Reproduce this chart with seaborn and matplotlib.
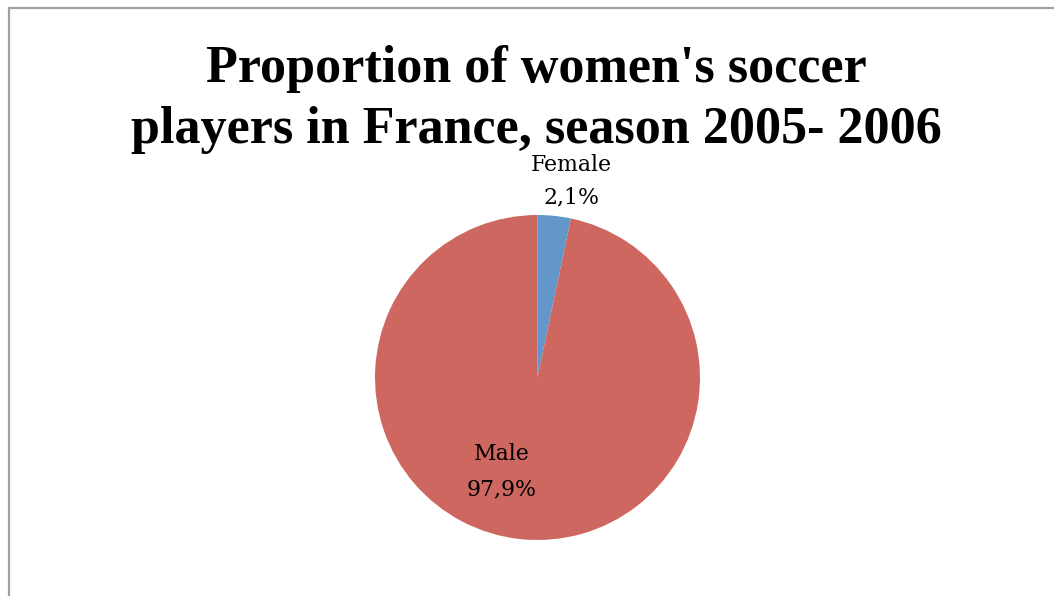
import matplotlib
matplotlib.use("Agg")
import matplotlib.pyplot as plt
from matplotlib.lines import Line2D
import seaborn as sns

# ---- data ----
categories = ["Female", "Male"]
shares = [3.3, 96.7]          # slice sizes as drawn in the reference
pct_labels = ["2,1%", "97,9%"]  # labels as printed in the reference
colors = ["#6396C9", "#CD6760"]
title_lines = ["Proportion of women's soccer", "players in France, season 2005- 2006"]

sns.set_theme(style="white")
plt.rcParams["font.family"] = ["DejaVu Serif", "DejaVu Sans"]

W, H, DPI = 1054, 596, 100
fig = plt.figure(figsize=(W / DPI, H / DPI), dpi=DPI, facecolor="white")

# frame border (top and left visible)
x0 = 9 / W
ytop = 1 - 7.5 / H
fig.add_artist(Line2D([x0, x0], [0, ytop], transform=fig.transFigure, color="#A0A0A0", lw=1.6))
fig.add_artist(Line2D([x0, 1], [ytop, ytop], transform=fig.transFigure, color="#A0A0A0", lw=1.6))

# title
cx = 536.5 / W
for line, base in zip(title_lines, [82, 143]):
    fig.text(cx, 1 - base / H, line, ha="center", va="baseline",
             fontfamily="Liberation Serif", fontweight="bold", fontsize=37.5, color="black")

# pie axes
pcx, pcy, r = 537.5, 377.5, 162.5
ax = fig.add_axes([(pcx - r) / W, (H - (pcy + r)) / H, 2 * r / W, 2 * r / H])
ax.pie(shares, colors=colors, startangle=90, counterclock=False, radius=1,
       wedgeprops=dict(linewidth=0))
ax.set_xlim(-1, 1)
ax.set_ylim(-1, 1)
ax.set_aspect("equal")
ax.axis("off")

def px2d(px, py):
    return (px - pcx) / r, (pcy - py) / r

label_pos = {
    "Female": [(571.5, 171), (571.5, 203)],
    "Male": [(502, 460), (502, 495)],
}
for cat, pct in zip(categories, pct_labels):
    for txt, (px, py) in zip([cat, pct], label_pos[cat]):
        x, y = px2d(px, py)
        ax.text(x, y, txt, ha="center", va="baseline", fontsize=15.8,
                fontfamily="DejaVu Serif", color="black", clip_on=False)

fig.savefig("out.png", dpi=DPI, facecolor="white")
